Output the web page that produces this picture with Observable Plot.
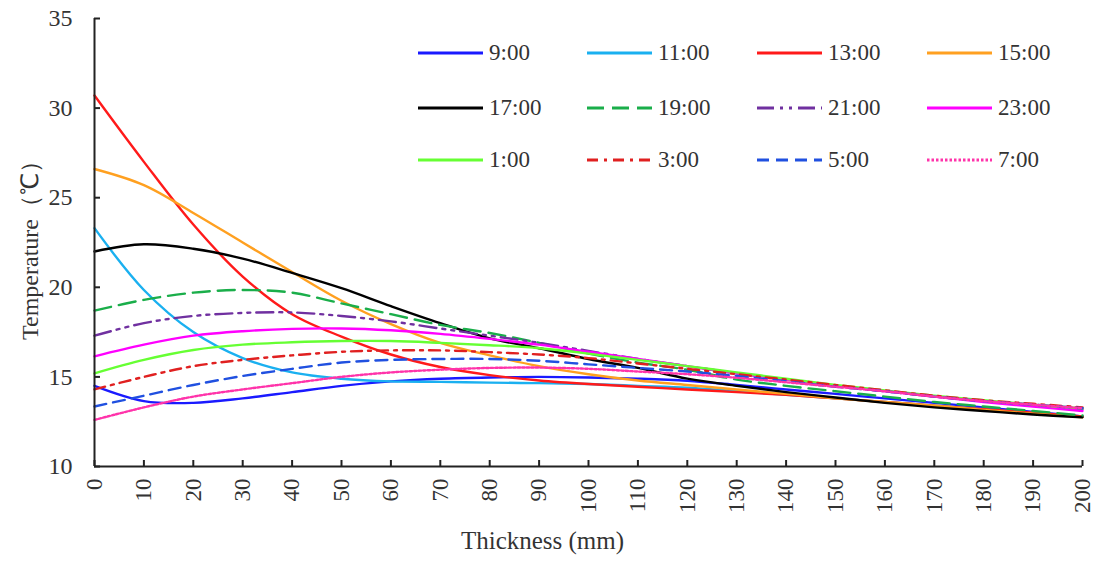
<!DOCTYPE html>
<html>
<head>
<meta charset="utf-8">
<script src="https://cdn.jsdelivr.net/npm/d3@7"></script>
<script src="https://cdn.jsdelivr.net/npm/@observablehq/plot@0.6"></script>
<style>
  html, body { margin: 0; padding: 0; background: #fff; }
  #wrap { position: relative; width: 1096px; height: 563px; font-family: "Liberation Serif", "Times New Roman", serif; }
  #legend { position: absolute; left: 0; top: 0; }
  .item { position: absolute; display: flex; align-items: center; font-size: 23px; color: #333; white-space: nowrap; }
  .item svg { margin-right: 6px; }
</style>
</head>
<body>
<div id="wrap"><div id="chart"></div><div id="legend"></div></div>
<script>
const thickness = [0,10,20,30,40,50,60,70,80,90,100,110,120,130,140,150,160,170,180,190,200];
const seriesNames = ["9:00","11:00","13:00","15:00","17:00","19:00","21:00","23:00","1:00","3:00","5:00","7:00"];
const t0900 = [14.5,13.65,13.55,13.8,14.15,14.5,14.75,14.9,14.97,15.0,14.97,14.9,14.78,14.55,14.3,14.05,13.8,13.55,13.3,13.05,12.8];
const t1100 = [23.3,19.85,17.5,16.05,15.25,14.9,14.75,14.72,14.68,14.65,14.6,14.5,14.4,14.2,14.0,13.8,13.6,13.4,13.2,13.0,12.8];
const t1300 = [30.7,27.0,23.5,20.6,18.5,17.25,16.25,15.55,15.1,14.8,14.6,14.45,14.3,14.15,14.0,13.8,13.6,13.4,13.2,13.0,12.8];
const t1500 = [26.6,25.7,24.15,22.5,20.85,19.25,17.95,16.9,16.2,15.6,15.15,14.8,14.55,14.3,14.05,13.8,13.6,13.4,13.15,12.95,12.75];
const t1700 = [22.0,22.4,22.15,21.6,20.8,19.95,18.95,18.0,17.15,16.6,16.0,15.5,14.9,14.5,14.15,13.85,13.55,13.3,13.1,12.9,12.75];
const t1900 = [18.7,19.3,19.7,19.85,19.7,19.1,18.5,17.9,17.45,16.9,16.3,15.8,15.4,14.85,14.5,14.2,13.9,13.6,13.35,13.1,12.85];
const t2100 = [17.3,18.0,18.4,18.57,18.6,18.4,18.1,17.7,17.3,16.9,16.45,16.0,15.6,15.2,14.85,14.5,14.2,13.9,13.65,13.4,13.2];
const t2300 = [16.15,16.8,17.3,17.55,17.68,17.7,17.6,17.4,17.12,16.8,16.4,16.0,15.6,15.2,14.85,14.5,14.2,13.9,13.6,13.35,13.1];
const t0100 = [15.2,15.95,16.5,16.8,16.93,17.0,17.0,16.9,16.77,16.6,16.3,15.95,15.6,15.25,14.9,14.55,14.25,13.95,13.7,13.45,13.25];
const t0300 = [14.3,15.0,15.6,15.95,16.2,16.4,16.48,16.48,16.38,16.25,16.05,15.75,15.45,15.15,14.85,14.55,14.25,13.95,13.7,13.5,13.3];
const t0500 = [13.35,13.95,14.55,15.05,15.45,15.8,15.95,16.0,16.0,15.9,15.7,15.5,15.3,15.05,14.75,14.45,14.2,13.9,13.65,13.45,13.25];
const t0700 = [12.6,13.3,13.9,14.3,14.65,15.0,15.25,15.4,15.5,15.52,15.45,15.3,15.15,14.95,14.7,14.45,14.2,13.9,13.65,13.45,13.25];
const seriesValues = [t0900,t1100,t1300,t1500,t1700,t1900,t2100,t2300,t0100,t0300,t0500,t0700];
const xTicks = [0,10,20,30,40,50,60,70,80,90,100,110,120,130,140,150,160,170,180,190,200];
const yTicks = [10,15,20,25,30,35];

const styles = [
  {color: "#1a1aff", dash: null},
  {color: "#1ab0f0", dash: null},
  {color: "#ff1a1a", dash: null},
  {color: "#ffa020", dash: null},
  {color: "#000000", dash: null},
  {color: "#1aae4a", dash: "17,8"},
  {color: "#7030a0", dash: "17,6,3,6,3,6"},
  {color: "#ff00ff", dash: null},
  {color: "#66ff33", dash: null},
  {color: "#e02020", dash: "11,6,3,6"},
  {color: "#2050e0", dash: "12,7"},
  {color: "#ff33aa", dash: "2.5,2"}
];

const font = '"Liberation Serif", "Times New Roman", serif';
const lineMarks = seriesNames.map((name, i) => {
  const rows = thickness.map((x, j) => ({x, y: seriesValues[i][j]}));
  return Plot.line(rows, {x: "x", y: "y", stroke: styles[i].color, strokeWidth: 2.4,
    strokeDasharray: styles[i].dash ?? undefined, curve: "catmull-rom"});
});

const chart = Plot.plot({
  width: 1096, height: 563,
  marginLeft: 94, marginRight: 14, marginTop: 18, marginBottom: 97,
  style: {fontFamily: font, background: "#fff", color: "#333"},
  x: {domain: [0, 200]},
  y: {domain: [10, 35]},
  marks: [
    ...lineMarks,
    Plot.ruleX([0], {strokeWidth: 2, stroke: "#222"}),
    Plot.ruleY([10], {strokeWidth: 2, stroke: "#222"}),
    Plot.axisY(yTicks, {tickSize: 6, dx: 6, strokeWidth: 2, fill: "none", stroke: "#222"}),
    Plot.axisX(xTicks, {tickSize: 6, dy: -6, strokeWidth: 2, fill: "none", stroke: "#222"}),
    Plot.axisY(yTicks, {tickSize: 0, tickPadding: 22, fontSize: 24, fill: "#333", label: null}),
    Plot.axisX(xTicks, {tickSize: 0, tickPadding: 12, tickRotate: -90, fontSize: 23, fill: "#333", label: null}),
    Plot.text(["Thickness (mm)"], {frameAnchor: "bottom", dx: -46, dy: 82, fontSize: 25, fill: "#333", fontFamily: font}),
    Plot.text(["Temperature（℃）"], {frameAnchor: "left", textAnchor: "middle", dx: -64, dy: 2, rotate: -90, fontSize: 24, fill: "#333", fontFamily: font})
  ]
});
document.getElementById("chart").appendChild(chart);

// legend
const legend = document.getElementById("legend");
const colX = [418, 587, 757, 927];
const rowY = [53, 108, 160];
seriesNames.forEach((name, i) => {
  const r = Math.floor(i / 4), c = i % 4;
  const div = document.createElement("div");
  div.className = "item";
  div.style.left = colX[c] + "px";
  div.style.top = (rowY[r] - 14) + "px";
  div.style.height = "28px";
  const s = styles[i];
  div.innerHTML = `<svg width="65" height="10"><line x1="0" y1="5" x2="65" y2="5" stroke="${s.color}" stroke-width="3" ${s.dash ? `stroke-dasharray="${s.dash}"` : ""}/></svg><span>${name}</span>`;
  legend.appendChild(div);
});
</script>
</body>
</html>
